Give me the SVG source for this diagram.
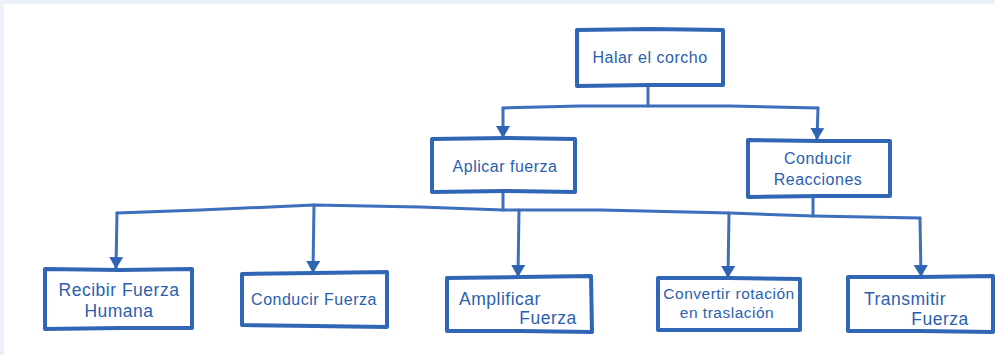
<svg xmlns="http://www.w3.org/2000/svg" width="995" height="355" viewBox="0 0 995 355">
  <defs>
    <marker id="arrow" viewBox="0 0 12 14" refX="11" refY="7" markerWidth="12" markerHeight="14" markerUnits="userSpaceOnUse" orient="auto">
      <path d="M0,0 L12,7 L0,14 Z" fill="#2f63b4"/>
    </marker>
    <style>
      .box { fill: #ffffff; stroke: #3166b6; stroke-width: 4; stroke-linejoin: round; }
      .link { fill: none; stroke: #3d6fbd; stroke-width: 3; stroke-linecap: round; stroke-linejoin: round; }
      .drop { fill: none; stroke: #3d6fbd; stroke-width: 3; stroke-linecap: round; marker-end: url(#arrow); }
      .lbl { font-family: "Liberation Sans", Arial, sans-serif; font-size: 16px; fill: #2a5fb0; text-anchor: middle; letter-spacing: 0.5px; }
      .big { font-size: 17.5px; }
    </style>
  </defs>

  <!-- page frame -->
  <rect x="0" y="0" width="995" height="355" fill="#edf1f9"/>
  <rect x="4" y="4" width="991" height="351" fill="#ffffff"/>

  <!-- connectors -->
  <g id="connectors">
    <path class="link" d="M648,86 L648,106"/>
    <path class="link" d="M503,108 L580,106 L648,106 L730,106 L818,108"/>
    <path class="drop" d="M503,108 L503,137"/>
    <path class="drop" d="M818,108 L817,139"/>
    <path class="link" d="M503,193 L503,210"/>
    <path class="link" d="M813,198 L813,216"/>
    <path class="link" d="M117,213 L200,210 L314,205 L420,207 L503,210 L600,210 L730,213 L813,216 L920,218"/>
    <path class="drop" d="M117,213 L116,268"/>
    <path class="drop" d="M314,205 L313,272"/>
    <path class="drop" d="M519,210 L518,276"/>
    <path class="drop" d="M729,213 L728,277"/>
    <path class="drop" d="M920,218 L921,276"/>
  </g>

  <g id="halar">
    <path class="box" d="M577,30 L650,29 L723,30 L723,85 L650,85 L577,86 Z"/>
    <text class="lbl" x="650" y="63">Halar el corcho</text>
  </g>

  <g id="aplicar">
    <path class="box" d="M432,139 L505,138 L575,139 L575,192 L505,191 L432,192 Z"/>
    <text class="lbl" x="505" y="172">Aplicar fuerza</text>
  </g>

  <g id="reacciones">
    <path class="box" d="M748,140 L820,141 L890,141 L890,196 L820,196 L748,197 Z"/>
    <text class="lbl" x="818" y="164">Conducir</text>
    <text class="lbl" x="818" y="185">Reacciones</text>
  </g>

  <g id="recibir">
    <path class="box" d="M45,269 L120,270 L192,269 L192,328 L120,328 L45,329 Z"/>
    <text class="lbl big" x="119" y="296">Recibir Fuerza</text>
    <text class="lbl big" x="119" y="317">Humana</text>
  </g>

  <g id="conducir-fuerza">
    <path class="box" d="M242,274 L315,273 L387,272 L387,327 L315,326 L242,325 Z"/>
    <text class="lbl" x="314" y="305">Conducir Fuerza</text>
  </g>

  <g id="amplificar">
    <path class="box" d="M447,278 L520,277 L591,276 L592,332 L520,331 L447,331 Z"/>
    <text class="lbl big" x="500" y="305">Amplificar</text>
    <text class="lbl big" x="548" y="324">Fuerza</text>
  </g>

  <g id="convertir">
    <path class="box" d="M658,278 L730,278 L800,279 L800,330 L730,330 L658,330 Z"/>
    <text class="lbl" x="729" y="299" style="font-size:15.5px">Convertir rotación</text>
    <text class="lbl" x="727" y="318" style="font-size:15.5px">en traslación</text>
  </g>

  <g id="transmitir">
    <path class="box" d="M848,277 L920,277 L993,276 L993,332 L920,331 L848,331 Z"/>
    <text class="lbl big" x="905" y="305">Transmitir</text>
    <text class="lbl big" x="940" y="325">Fuerza</text>
  </g>
</svg>
